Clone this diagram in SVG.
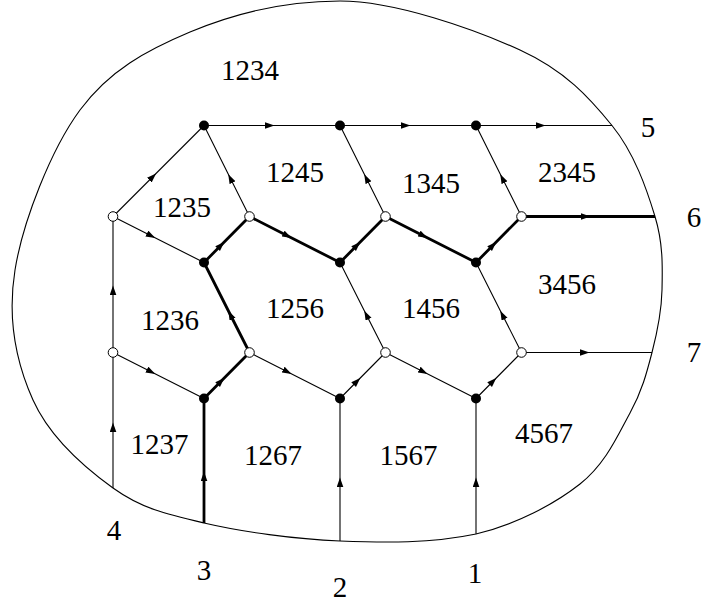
<svg xmlns="http://www.w3.org/2000/svg" width="702" height="604" viewBox="0 0 702 604">
<style>
.e{fill:none;stroke:#000;stroke-width:1.1;marker-mid:url(#ar)}
.t{stroke-width:2.8}
.b{fill:#000}
.w{fill:#fff;stroke:#000;stroke-width:1}
text{font-family:"Liberation Serif","DejaVu Serif",serif;font-size:29px;fill:#000;text-anchor:middle}
</style>
<defs>
<marker id="ar" markerUnits="userSpaceOnUse" markerWidth="11" markerHeight="7" refX="8" refY="3.3" orient="auto"><path d="M0,0 L9.5,3.3 L0,6.6 z" fill="#000"/></marker>
</defs>
<rect width="702" height="604" fill="#fff"/>
<g id="boundary">
<path fill="none" stroke="#000" stroke-width="1.1" d="M340,1 C395,1 474.7,29.25 520,50 C565.3,70.75 589.5,97.75 612,125.5 C634.5,153.25 646.7,189.1 655,216.5 C663.3,243.9 662.5,267.3 662,290 C661.5,312.7 657.3,332 652,352.5 C646.7,373 642,391.1 630,413 C618,434.9 605.7,463.8 580,484 C554.3,504.2 516,524.5 476,534 C430.7,543.5 385.3,542.8 340,541 C294.7,539.2 241.8,531.8 204,523 C166.2,514.2 141.5,508.5 113,488 C84.5,467.5 49.3,436.3 33,400 C16.7,363.7 7.2,318.3 15,270 C22.8,221.7 50.8,149.7 80,110 C109.2,70.3 146.7,50.2 190,32 C233.3,13.8 285,1 340,1 Z"/>
</g>
<g id="connectors">
<path class="e" d="M204,125.5 L273,125.5 L340,125.5"/>
<path class="e" d="M340,125.5 L409,125.5 L476,125.5"/>
<path class="e" d="M476,125.5 L544,125.5 L612,125.5"/>
<path class="e" d="M113,216.5 L155,174.5 L204,125.5"/>
<path class="e" d="M113,216.5 L154,237.25 L204,262.5"/>
<path class="e" d="M249.5,216.5 L228.95,175.5 L204,125.5"/>
<path class="e t" d="M204,262.5 L223.25,243 L249.5,216.5"/>
<path class="e t" d="M249.5,216.5 L290.25,237.25 L340,262.5"/>
<path class="e t" d="M340,262.5 L359.25,243 L385.5,216.5"/>
<path class="e" d="M385.5,216.5 L364.95,175.5 L340,125.5"/>
<path class="e t" d="M385.5,216.5 L426.25,237.25 L476,262.5"/>
<path class="e t" d="M476,262.5 L495.25,243 L521.5,216.5"/>
<path class="e" d="M521.5,216.5 L500.95,175.5 L476,125.5"/>
<path class="e t" d="M521.5,216.5 L589,216.5 L655,216.5"/>
<path class="e" d="M113,352.5 L113,287 L113,216.5"/>
<path class="e" d="M113,352.5 L154,373.25 L204,398.5"/>
<path class="e t" d="M204,398.5 L223.25,379 L249.5,352.5"/>
<path class="e t" d="M249.5,352.5 L228.95,312 L204,262.5"/>
<path class="e" d="M249.5,352.5 L290.25,373.25 L340,398.5"/>
<path class="e" d="M340,398.5 L359.25,379 L385.5,352.5"/>
<path class="e" d="M385.5,352.5 L364.95,312 L340,262.5"/>
<path class="e" d="M385.5,352.5 L426.25,373.25 L476,398.5"/>
<path class="e" d="M476,398.5 L495.25,379 L521.5,352.5"/>
<path class="e" d="M521.5,352.5 L500.95,312 L476,262.5"/>
<path class="e" d="M521.5,352.5 L588,352.5 L652,352.5"/>
<path class="e" d="M113,488 L113,424 L113,352.5"/>
<path class="e t" d="M204,523 L204,473 L204,398.5"/>
<path class="e" d="M340,541 L340,479 L340,398.5"/>
<path class="e" d="M476,534 L476,479 L476,398.5"/>
</g>
<g id="A"><circle class="b" cx="204" cy="125.5" r="5"/></g>
<g id="B"><circle class="b" cx="340" cy="125.5" r="5"/></g>
<g id="C"><circle class="b" cx="476" cy="125.5" r="5"/></g>
<g id="W1"><circle class="w" cx="113" cy="216.5" r="4.8"/></g>
<g id="W2"><circle class="w" cx="249.5" cy="216.5" r="4.8"/></g>
<g id="W3"><circle class="w" cx="385.5" cy="216.5" r="4.8"/></g>
<g id="W4"><circle class="w" cx="521.5" cy="216.5" r="4.8"/></g>
<g id="D"><circle class="b" cx="204" cy="262.5" r="5"/></g>
<g id="E"><circle class="b" cx="340" cy="262.5" r="5"/></g>
<g id="F"><circle class="b" cx="476" cy="262.5" r="5"/></g>
<g id="W5"><circle class="w" cx="113" cy="352.5" r="4.8"/></g>
<g id="W6"><circle class="w" cx="249.5" cy="352.5" r="4.8"/></g>
<g id="W7"><circle class="w" cx="385.5" cy="352.5" r="4.8"/></g>
<g id="W8"><circle class="w" cx="521.5" cy="352.5" r="4.8"/></g>
<g id="G"><circle class="b" cx="204" cy="398.5" r="5"/></g>
<g id="H"><circle class="b" cx="340" cy="398.5" r="5"/></g>
<g id="I"><circle class="b" cx="476" cy="398.5" r="5"/></g>
<g id="regions">
<text x="250" y="80">1234</text>
<text x="182" y="216.5">1235</text>
<text x="295" y="181.5">1245</text>
<text x="431" y="192.5">1345</text>
<text x="567" y="181.5">2345</text>
<text x="567" y="294">3456</text>
<text x="170" y="329.5">1236</text>
<text x="295" y="317.5">1256</text>
<text x="431" y="317.5">1456</text>
<text x="159.5" y="453.5">1237</text>
<text x="273" y="464.5">1267</text>
<text x="408.5" y="464.5">1567</text>
<text x="544" y="442.5">4567</text>
</g>
<g id="ends">
<text x="648" y="136.5">5</text>
<text x="694" y="226.5">6</text>
<text x="694" y="361.5">7</text>
<text x="114" y="540">4</text>
<text x="204" y="580">3</text>
<text x="340" y="597">2</text>
<text x="475" y="583">1</text>
</g>
</svg>
